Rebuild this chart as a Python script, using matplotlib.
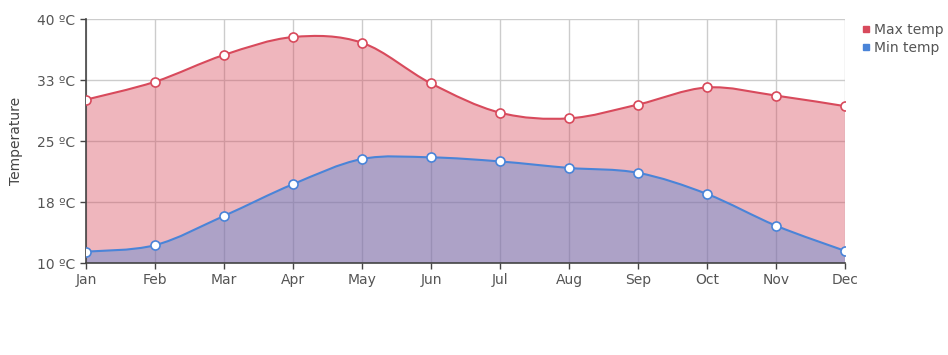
import numpy as np
import matplotlib.pyplot as plt
from matplotlib.path import Path
from matplotlib.patches import PathPatch
from matplotlib.lines import Line2D

months = ['Jan', 'Feb', 'Mar', 'Apr', 'May', 'Jun', 'Jul', 'Aug', 'Sep', 'Oct', 'Nov', 'Dec']
max_temp = [30.1, 32.3, 35.6, 37.8, 37.1, 32.1, 28.5, 27.8, 29.5, 31.6, 30.6, 29.3]
min_temp = [11.4, 12.2, 15.8, 19.7, 22.8, 23.0, 22.5, 21.7, 21.1, 18.5, 14.6, 11.5]
y_ticks = [10, 17.5, 25, 32.5, 40]
y_labels = ['10 ºC', '18 ºC', '25 ºC', '33 ºC', '40 ºC']

RED = '#d84a5c'
BLUE = '#4a84d8'


def smooth_path(x, y, base, k=1 / 6):
    # catmull-rom style spline as cubic bezier segments, closed down to base
    x = np.asarray(x, float)
    y = np.asarray(y, float)
    n = len(x)
    verts = [(x[0], base), (x[0], y[0])]
    codes = [Path.MOVETO, Path.LINETO]
    for i in range(n - 1):
        a, d = max(i - 1, 0), min(i + 2, n - 1)
        c1 = (x[i] + (x[i + 1] - x[a]) * k, y[i] + (y[i + 1] - y[a]) * k)
        c2 = (x[i + 1] - (x[d] - x[i]) * k, y[i + 1] - (y[d] - y[i]) * k)
        verts += [c1, c2, (x[i + 1], y[i + 1])]
        codes += [Path.CURVE4] * 3
    line = Path(verts[1:], [Path.MOVETO] + codes[2:])
    verts += [(x[-1], base), (x[0], base)]
    codes += [Path.LINETO, Path.CLOSEPOLY]
    return Path(verts, codes), line


fig = plt.figure(figsize=(9.48, 3.55), dpi=100)
ax = fig.add_axes([0.0907, 0.259, 0.8006, 0.687])

xs = np.arange(len(months))
for vals, col in [(max_temp, RED), (min_temp, BLUE)]:
    area, line = smooth_path(xs, vals, 10)
    ax.add_patch(PathPatch(area, facecolor=col, edgecolor='none', alpha=0.4, zorder=2))
    ax.add_patch(PathPatch(line, facecolor='none', edgecolor=col, lw=1.5, zorder=3))
    ax.plot(xs, vals, 'o', ms=6.5, mfc='white', mec=col, mew=1.2, zorder=4)

ax.set_xlim(0, 11)
ax.set_ylim(10, 40)
ax.set_xticks(xs)
ax.set_xticklabels(months)
ax.set_yticks(y_ticks)
ax.set_yticklabels(y_labels)
ax.grid(True, color='#cccccc', lw=1, zorder=1)
ax.set_axisbelow(True)
for s in ['top', 'right']:
    ax.spines[s].set_visible(False)
for s in ['left', 'bottom']:
    ax.spines[s].set_color('#444444')
    ax.spines[s].set_linewidth(1.2)
ax.tick_params(colors='#444444', labelcolor='#555555', labelsize=10, length=4, width=1)
ax.set_ylabel('Temperature', fontsize=10, color='#444444', labelpad=10)

handles = [Line2D([], [], marker='s', ls='none', color=RED, ms=5),
           Line2D([], [], marker='s', ls='none', color=BLUE, ms=5)]
fig.legend(handles, ['Max temp', 'Min temp'], loc='upper left', bbox_to_anchor=(0.893, 0.97),
           frameon=False, fontsize=10, handletextpad=0.1, labelspacing=0.25,
           handlelength=1, labelcolor='#555555')

fig.savefig('out.png', dpi=100)
